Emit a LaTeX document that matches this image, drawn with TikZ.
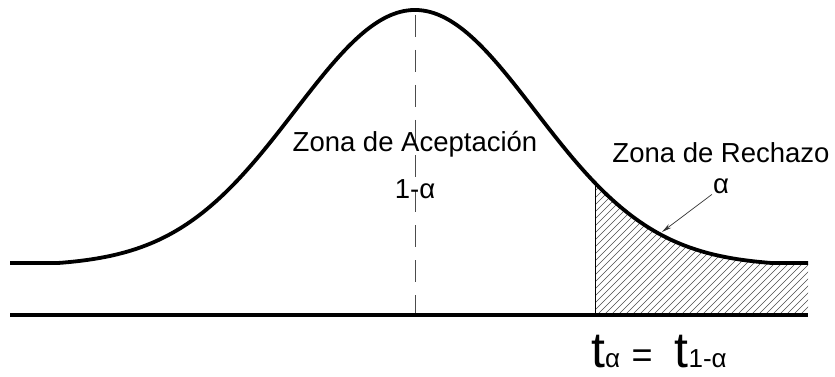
\documentclass[tikz,border=0pt]{standalone}
\usepackage{fontspec}
\setmainfont{Liberation Sans}
\usepackage{tikz}
\usetikzlibrary{arrows.meta, positioning}

\begin{document}
\begin{tikzpicture}[
        x=1pt, y=-1pt,
        etiqueta/.style={
            inner sep=1pt,
            anchor=base,
            font=\fontsize{27.5}{32}\selectfont
        },
        curva/.style={line width=3.8pt, line join=round},
        eje/.style={line width=3.2pt},
        flecha/.style={-{Stealth[length=10pt, width=4.5pt]}, line width=0.7pt, draw=black!80},
        guia/.style={line width=0.8pt, draw=black!70, dash pattern=on 22pt off 13pt},
        declare function={campana(\t)=263-253*max(0,(exp(-0.5*((\t-415)/120)^2)-0.012)/0.988);}
    ]
    \useasboundingbox (0,0) rectangle (835,377);

    % zona de rechazo rayada
    \begin{scope}
        \clip (595,315) -- plot[domain=595:808, samples=80]
            (\x, {campana(\x)}) -- (808,315) -- cycle;
        \foreach \k in {0,7,...,420}
            \draw[line width=0.5pt, black!70] (380+\k,315) -- (380+\k+160,155);
    \end{scope}
    \draw[line width=0.8pt] (595,{campana(595)}) -- (595,315);

    % eje y campana
    \draw[eje] (10,315) -- (808,315);
    \draw[guia] (415,15) -- (415,313);
    \draw[curva] plot[domain=10:808, samples=240] (\x, {campana(\x)});

    % textos
    \node (acep)    [etiqueta] at (415,152) {Zona de Aceptación};
    \node (unoalfa) [etiqueta] at (415,198) {1-α};
    \node (rech)    [etiqueta] at (721,162) {Zona de Rechazo};
    \node (alfa)    [etiqueta] at (721,193) {α};
    \coordinate (punta) at (662,232);
    \draw[flecha] (alfa.south west) -- (punta);

    \node (valor) [inner sep=0pt, anchor=base west] at (591,367)
        {\fontsize{50}{50}\selectfont t\fontsize{26}{26}\selectfont α\,
         \fontsize{36}{36}\selectfont=\,\,
         \fontsize{50}{50}\selectfont t\fontsize{26}{26}\selectfont 1-α};

\end{tikzpicture}
\end{document}
